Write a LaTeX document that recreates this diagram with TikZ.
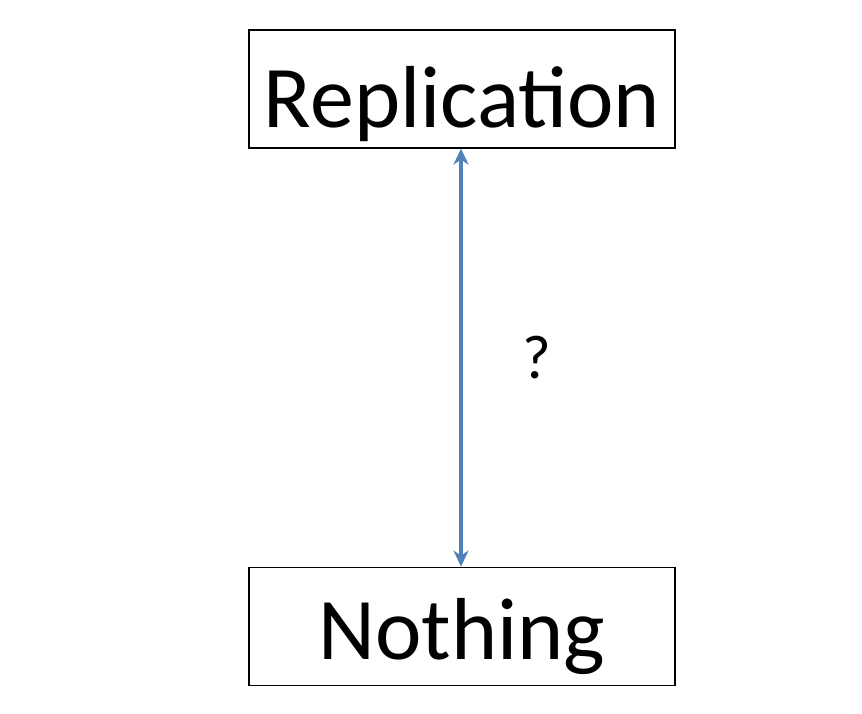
\documentclass[tikz,border=0pt]{standalone}
\usepackage{fontspec}
\setmainfont{Carlito}
\usetikzlibrary{arrows.meta, positioning}
\definecolor{linkblue}{RGB}{79,129,189}

\begin{document}
\begin{tikzpicture}[
    x=1pt, y=-1pt,
    node distance=418pt,
    box/.style={
        draw=black,
        line width=1.2pt,
        minimum width=426pt,
        minimum height=118pt,
        inner sep=0pt,
        text height=83pt,
        text depth=7pt,
        font=\fontsize{88}{100}\selectfont
    },
    link/.style={
        {Stealth[length=16pt,width=15pt,inset=5pt]}-{Stealth[length=16pt,width=15pt,inset=5pt]},
        line width=3.5pt,
        draw=linkblue
    }
]
\useasboundingbox (0,0) rectangle (862,713);

% Nodes
\node (repl) [box] at (462,89) {Replication};
\node (noth) [box, below=of repl, text height=78pt, text depth=12pt] {Nothing};

% Paths
\draw [link] ([xshift=-1pt]repl.south) -- node[xshift=76pt, font=\fontsize{62}{70}\selectfont] {?} ([xshift=-1pt]noth.north);

\end{tikzpicture}
\end{document}
